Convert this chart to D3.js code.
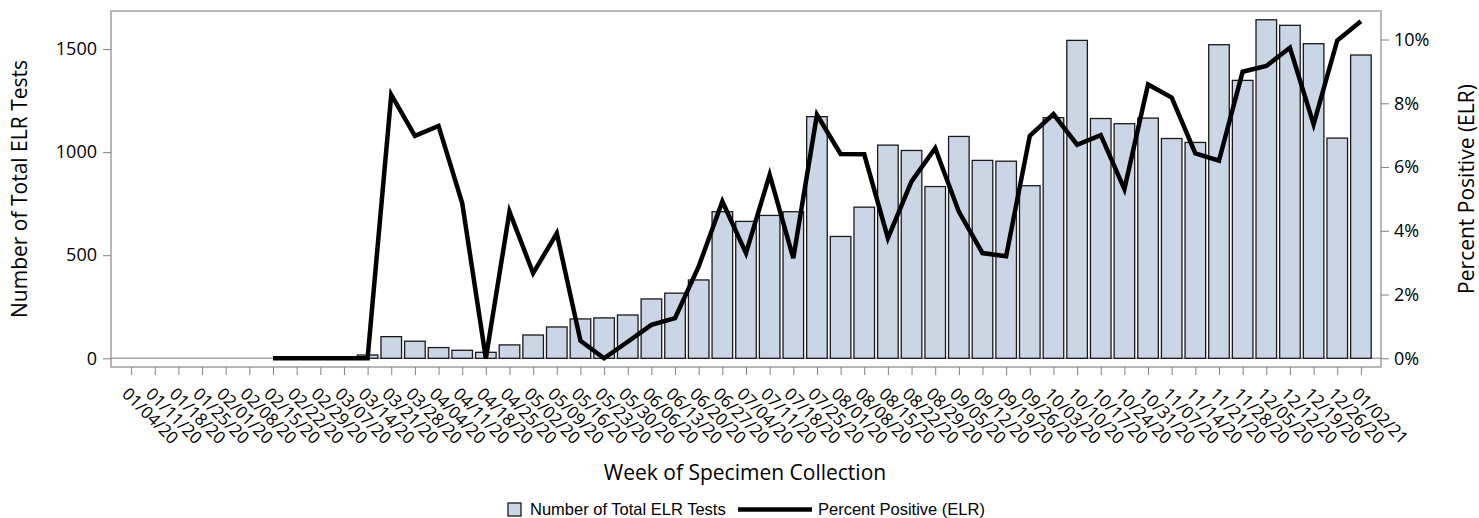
<!DOCTYPE html>
<html>
<head>
<meta charset="utf-8">
<script src="https://cdn.jsdelivr.net/npm/d3@7"></script>
<style>
  body { margin: 0; background: #fff; }
  svg text { font-family: "Open Sans", sans-serif; fill: #000; }
  .legend text { font-family: "Liberation Sans", Arial, sans-serif; }
</style>
</head>
<body>
<div id="chart"></div>
<script>
// week labels (week of specimen collection)
const weeks = ["01/04/20","01/11/20","01/18/20","01/25/20","02/01/20","02/08/20","02/15/20","02/22/20",
  "02/29/20","03/07/20","03/14/20","03/21/20","03/28/20","04/04/20","04/11/20","04/18/20","04/25/20",
  "05/02/20","05/09/20","05/16/20","05/23/20","05/30/20","06/06/20","06/13/20","06/20/20","06/27/20",
  "07/04/20","07/11/20","07/18/20","07/25/20","08/01/20","08/08/20","08/15/20","08/22/20","08/29/20",
  "09/05/20","09/12/20","09/19/20","09/26/20","10/03/20","10/10/20","10/17/20","10/24/20","10/31/20",
  "11/07/20","11/14/20","11/21/20","11/28/20","12/05/20","12/12/20","12/19/20","12/26/20","01/02/21"];

// number of total ELR tests per week
const totalTests = [null,null,null,null,null,null,0,0,0,0,16,105,83,52,39,29,65,
  113,152,191,196,210,288,316,380,711,664,693,711,1172,591,733,1034,1008,833,
  1076,960,956,837,1167,1542,1163,1138,1165,1066,1047,1521,1348,1642,1615,1526,1068,1471];

// percent positive (ELR)
const pctPositive = [null,null,null,null,null,null,0,0,0,0,0,8.27,6.98,7.29,4.87,0,4.60,
  2.67,3.92,0.55,0,0.52,1.05,1.26,2.88,4.92,3.30,5.76,3.14,7.64,6.41,6.40,3.77,5.55,6.59,
  4.60,3.30,3.20,6.98,7.66,6.70,7.00,5.31,8.59,8.18,6.43,6.20,8.99,9.17,9.74,7.34,9.97,10.57];

const leftTicks = [0, 500, 1000, 1500];
const rightTicks = [0, 2, 4, 6, 8, 10];

const W = 1479, H = 518;
const margin = {left: 111, right: 98, top: 11, bottom: 151};
const plotW = W - margin.left - margin.right;
const plotH = H - margin.top - margin.bottom;

const svg = d3.select("#chart").append("svg")
  .attr("width", W).attr("height", H);

const g = svg.append("g")
  .attr("transform", "translate(" + margin.left + "," + margin.top + ")");

const x = d3.scalePoint().domain(weeks).range([0, plotW]).padding(0.85);
const yL = d3.scaleLinear().domain([-42.2, 1684.5]).range([plotH, 0]);
const yR = d3.scaleLinear().domain([-0.273, 10.895]).range([plotH, 0]);
const barW = x.step() * 0.87;

// zero reference line
g.append("line")
  .attr("x1", 0).attr("x2", plotW)
  .attr("y1", yL(0)).attr("y2", yL(0))
  .attr("stroke", "#a8a8a8").attr("stroke-width", 1.5);

// bars
g.selectAll("rect.bar")
  .data(weeks.map((w, i) => ({w: w, v: totalTests[i]})).filter(d => d.v !== null))
  .enter().append("rect")
  .attr("class", "bar")
  .attr("x", d => x(d.w) - barW / 2)
  .attr("width", barW)
  .attr("y", d => yL(d.v))
  .attr("height", d => yL(0) - yL(d.v))
  .attr("fill", d => d.v > 0 ? "#cad5e5" : "none")
  .attr("stroke", d => d.v > 0 ? "#1a1a1a" : "#999")
  .attr("stroke-width", 1.3);

// percent positive line
const line = d3.line()
  .defined(d => d.p !== null)
  .x(d => x(d.w))
  .y(d => yR(d.p));

g.append("path")
  .datum(weeks.map((w, i) => ({w: w, p: pctPositive[i]})))
  .attr("d", line)
  .attr("fill", "none")
  .attr("stroke", "#000")
  .attr("stroke-width", 4.5)
  .attr("stroke-linejoin", "miter");

// frame
g.append("rect")
  .attr("width", plotW).attr("height", plotH)
  .attr("fill", "none").attr("stroke", "#a0a0a0").attr("stroke-width", 1.5);

// left axis
const axL = g.append("g")
  .call(d3.axisLeft(yL).tickValues(leftTicks).tickFormat(d3.format("d")).tickSize(8).tickPadding(6));
axL.select(".domain").remove();
axL.selectAll(".tick line").attr("stroke", "#808080");
axL.selectAll("text").style("font-size", "18px").style("font-family", "'Open Sans', sans-serif");

// right axis
const axR = g.append("g")
  .attr("transform", "translate(" + plotW + ",0)")
  .call(d3.axisRight(yR).tickValues(rightTicks).tickFormat(d => d + "%").tickSize(8).tickPadding(5));
axR.select(".domain").remove();
axR.selectAll(".tick line").attr("stroke", "#808080");
axR.selectAll("text").style("font-size", "18px").style("font-family", "'Open Sans', sans-serif");

// bottom axis
const axB = g.append("g")
  .attr("transform", "translate(0," + plotH + ")")
  .call(d3.axisBottom(x).tickSize(8).tickFormat(""));
axB.select(".domain").remove();
axB.selectAll(".tick line").attr("stroke", "#808080");

g.append("g").selectAll("text.xl")
  .data(weeks)
  .enter().append("text")
  .attr("class", "xl")
  .attr("transform", d => "translate(" + (x(d) - 10) + "," + (plotH + 28) + ") rotate(45)")
  .style("font-size", "17px")
  .text(d => d);

// axis titles
svg.append("text")
  .attr("transform", "translate(27," + (margin.top + plotH / 2) + ") rotate(-90)")
  .attr("text-anchor", "middle")
  .style("font-size", "21px")
  .text("Number of Total ELR Tests");

svg.append("text")
  .attr("transform", "translate(1474," + (margin.top + plotH / 2) + ") rotate(-90)")
  .attr("text-anchor", "middle")
  .style("font-size", "21px")
  .text("Percent Positive (ELR)");

svg.append("text")
  .attr("x", margin.left + plotW / 2 - 1).attr("y", 480)
  .attr("text-anchor", "middle")
  .style("font-size", "21px")
  .text("Week of Specimen Collection");

// legend
const lg = svg.append("g").attr("class", "legend");
lg.append("rect")
  .attr("x", 508).attr("y", 503).attr("width", 13).attr("height", 13)
  .attr("fill", "#cad5e5").attr("stroke", "#1a1a1a").attr("stroke-width", 1.3);
lg.append("text").attr("x", 530).attr("y", 515).style("font-size", "16.5px")
  .text("Number of Total ELR Tests");
lg.append("line").attr("x1", 738).attr("x2", 812).attr("y1", 509.5).attr("y2", 509.5)
  .attr("stroke", "#000").attr("stroke-width", 4.5);
lg.append("text").attr("x", 818).attr("y", 515).style("font-size", "16.5px")
  .text("Percent Positive (ELR)");
</script>
</body>
</html>
